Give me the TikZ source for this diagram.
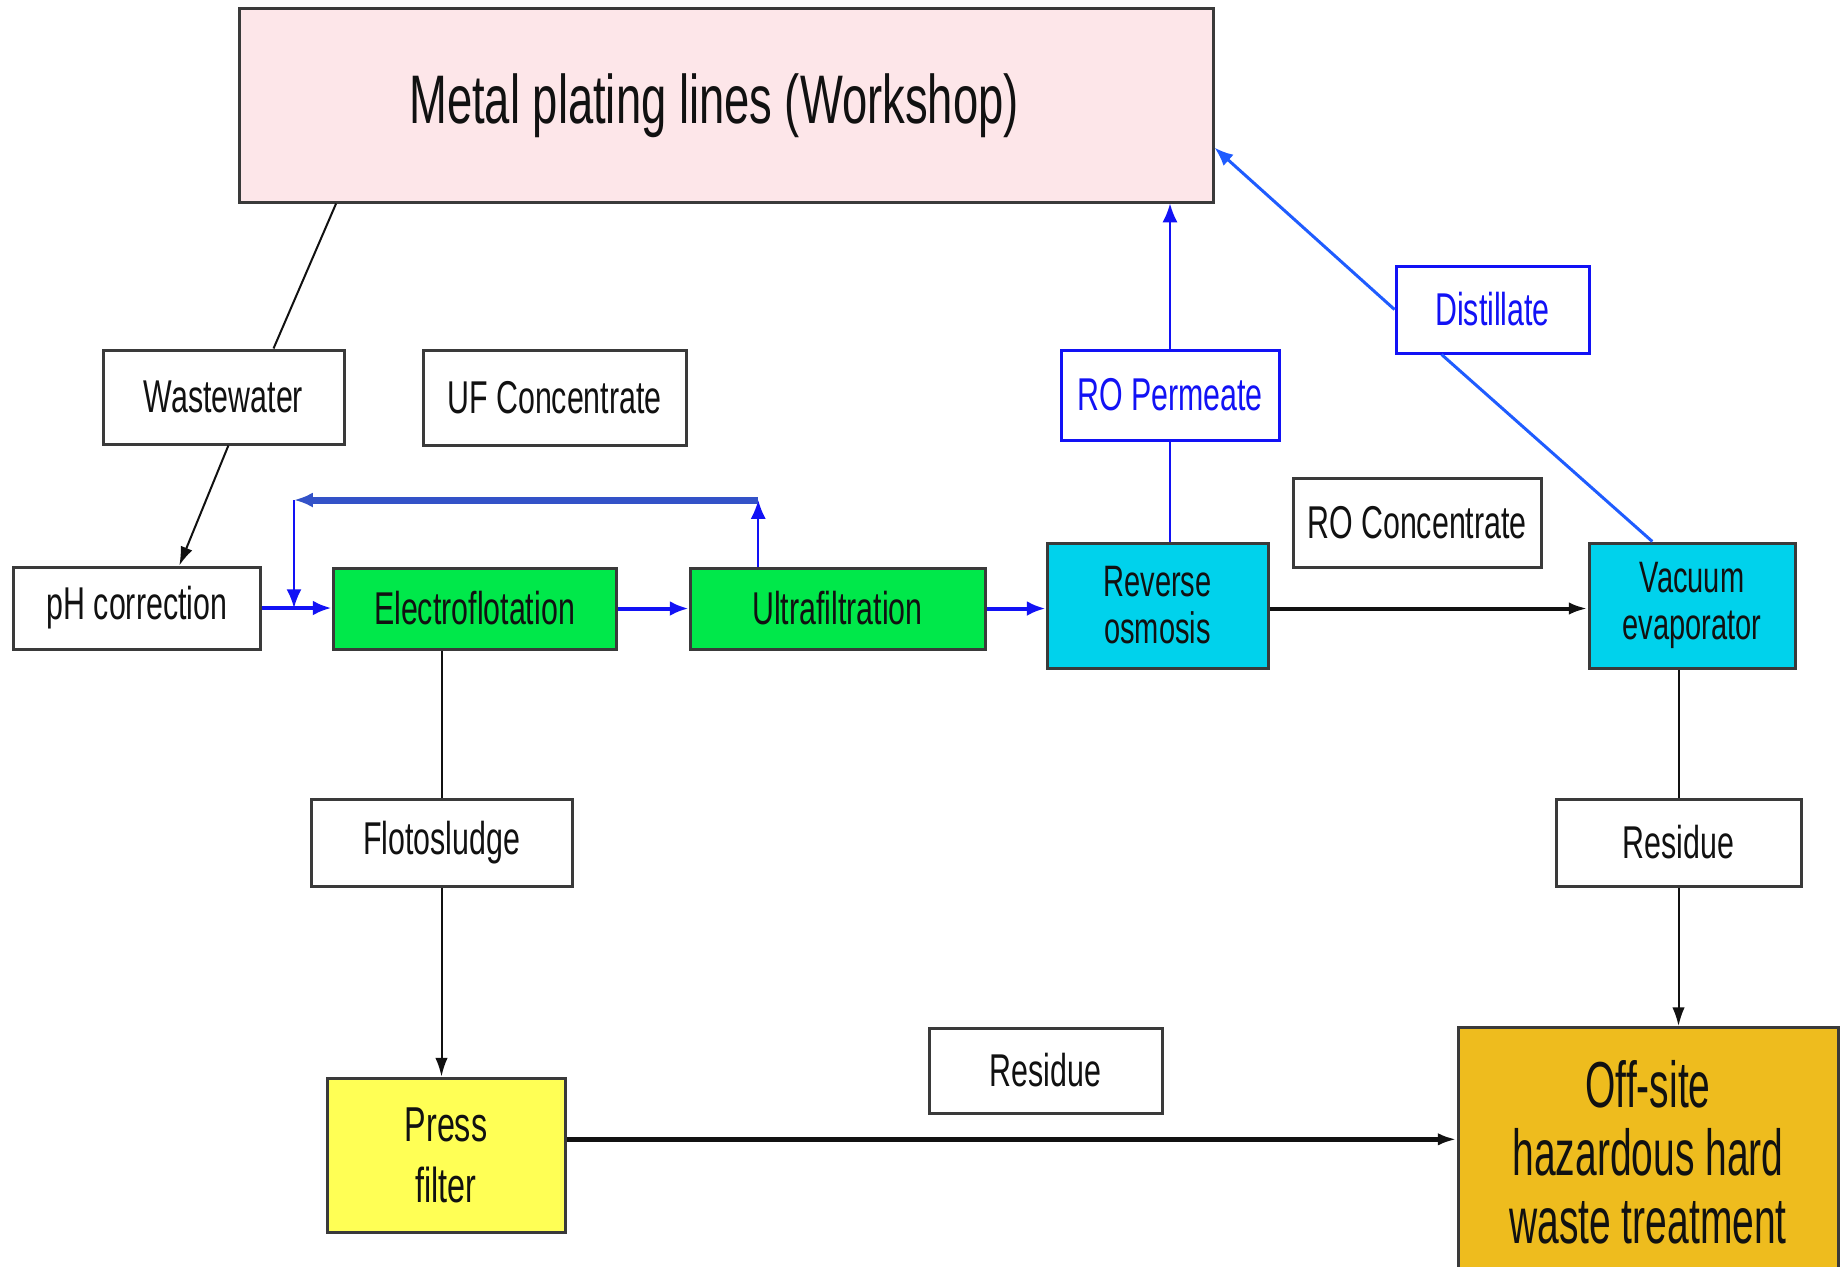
\documentclass[tikz,border=0pt]{standalone}
\usepackage{fontspec}
\newfontfamily\wtfont[FakeStretch=0.66]{Liberation Sans}
\newfontfamily\wtnarrow[FakeStretch=0.6]{Liberation Sans}
\usetikzlibrary{arrows.meta,calc,positioning}
\definecolor{wtink}{HTML}{111111}
\definecolor{wtedge}{HTML}{3A3A3A}
\definecolor{wtblue}{HTML}{1212F5}
\definecolor{wtloop}{HTML}{3352C8}
\definecolor{wtdist}{HTML}{1F5CFF}
\definecolor{wtpink}{HTML}{FDE6E9}
\definecolor{wtgreen}{HTML}{00E84A}
\definecolor{wtcyan}{HTML}{00D2EC}
\definecolor{wtyellow}{HTML}{FFFF55}
\definecolor{wtgold}{HTML}{EEBC1E}
\tikzset{
  wt box/.style={draw=wtedge, line width=1.2pt, fill=white, align=center, inner sep=2pt, text=wtink},
  wt label/.style={wt box, font=\wtfont\fontsize{18.4}{22}\selectfont},
  wt blue label/.style={wt label, draw=wtblue, text=wtblue},
  wt unit/.style={wt box, font=\wtfont\fontsize{17.6}{18.8}\selectfont},
  wt line/.style={line width=0.8pt, draw=wtink},
  wt arrow/.style={wt line, -{Latex[length=7.5pt,width=5pt]}},
  wt flow/.style={-{Latex[length=7.5pt,width=6pt]}, line width=1.6pt, draw=wtblue}
}

\begin{document}
\begin{tikzpicture}[x=0.4pt, y=-0.4pt]
  \useasboundingbox (0,0) rectangle (1843,1266);
  \fill[white] (0,0) rectangle (1843,1266);

  % workshop
  \node[wt box, fill=wtpink, minimum width=389.2pt, minimum height=77.2pt,
    font=\wtfont\fontsize{27.5}{30}\selectfont] (plating) at (726.5,105.5) {\hspace*{-10pt}Metal plating lines (Workshop)};

  % stream labels
  \node[wt label, minimum width=96.4pt, minimum height=37.6pt] (wastew) at (223.5,397) {Wastewater};
  \node[wt label, minimum width=105.2pt, minimum height=38pt] (ufconc) at (554.5,397.5) {UF Concentrate};
  \node[wt blue label, minimum width=87.2pt, minimum height=36pt] (ropermeate) at (1170,395) {RO Permeate};
  \node[wt blue label, minimum width=77.2pt, minimum height=34.8pt] (distil) at (1492.5,309.5) {Distillate};
  \node[wt label, minimum width=99.2pt, minimum height=35.6pt] (roconc) at (1417,522.5) {RO Concentrate};
  \node[wt label, minimum width=104.4pt, minimum height=34.8pt] (flotos) at (441.5,842.5) {Flotosludge};
  \node[wt label, minimum width=98pt, minimum height=34.8pt] (resid) at (1678.5,842.5) {Residue};
  \node[wt label, minimum width=93.2pt, minimum height=34pt] (residpf) at (1045.5,1070.5) {Residue};

  % process units
  \node[wt label, minimum width=98.4pt, minimum height=32.8pt] (phcorr) at (137,608) {pH correction};
  \node[wt label, fill=wtgreen, minimum width=113.2pt, minimum height=32.4pt] (eflot) at (474.5,608.5) {Electroflotation};
  \node[wt label, fill=wtgreen, minimum width=118pt, minimum height=32.4pt] (ufilt) at (837.5,608.5) {Ultrafiltration};
  \node[wt unit, fill=wtcyan, minimum width=88.4pt, minimum height=50pt] (revosm) at (1157.5,605.5) {Reverse\\osmosis};
  \node[wt unit, fill=wtcyan, minimum width=82.4pt, minimum height=50pt] (vacev) at (1692,605.5) {Vacuum\\evaporator};
  \node[wt box, fill=wtyellow, minimum width=95.2pt, minimum height=61.6pt,
    font=\wtfont\fontsize{19.6}{24.5}\selectfont] (press) at (446,1155) {Press\\filter};
  \node[wt box, fill=wtgold, minimum width=152pt, minimum height=99.6pt,
    font=\wtnarrow\fontsize{26}{27.2}\selectfont] (offsite) at (1648,1152) {Off-site\\hazardous hard\\waste treatment};

  % wastewater in
  \draw[wt line] ($(plating.south west)!0.1!(plating.south east)$) -- ($(wastew.north west)!0.705!(wastew.north east)$);
  \draw[wt arrow] ($(wastew.south west)!0.52!(wastew.south east)$) -- ($(phcorr.north west)!0.67!(phcorr.north east)$);

  % main line
  \draw[wt flow] (phcorr.east) -- (phcorr.east -| eflot.west);
  \draw[wt flow] (eflot.east) -- (eflot.east -| ufilt.west);
  \draw[wt flow] (ufilt.east) -- (ufilt.east -| revosm.west);
  \draw[wt arrow, line width=1.6pt] (revosm.east |- ufilt.east) -- (ufilt.east -| vacev.west);

  % UF concentrate back
  \coordinate (fbstart) at ($(ufilt.north west)!0.234!(ufilt.north east)$);
  \coordinate (fbright) at (fbstart |- 0,500);
  \coordinate (fbleft) at (294,500);
  \coordinate (fbin) at (fbleft |- phcorr.east);
  \draw[wt flow, line width=0.8pt] (fbstart) -- (fbright);
  \draw[wt flow, line width=2.8pt, draw=wtloop] (fbright) -- (fbleft);
  \draw[wt flow, line width=0.8pt] (fbleft) -- (fbin);

  % water back to workshop
  \draw[wt line, draw=wtblue] (revosm.north -| ropermeate.south) -- (ropermeate.south);
  \draw[wt flow, line width=0.8pt] (ropermeate.north) -- (ropermeate.north |- plating.south);
  \draw[line width=1.2pt, draw=wtdist] ($(vacev.north west)!0.31!(vacev.north east)$) -- ($(distil.south west)!0.24!(distil.south east)$);
  \draw[wt flow, line width=1.2pt, draw=wtdist] (distil.west) -- ($(plating.north east)!0.715!(plating.south east)$);

  % sludge and residue
  \draw[wt line] (eflot.south -| flotos.north) -- (flotos.north);
  \draw[wt arrow] (flotos.south) -- (flotos.south |- press.north);
  \draw[wt line] (vacev.south -| resid.north) -- (resid.north);
  \draw[wt arrow] (resid.south) -- (resid.south |- offsite.north);
  \coordinate (pfout) at ($(press.north east)!0.4!(press.south east)$);
  \draw[wt arrow, line width=2pt] (pfout) -- (pfout -| offsite.west);
\end{tikzpicture}
\end{document}
